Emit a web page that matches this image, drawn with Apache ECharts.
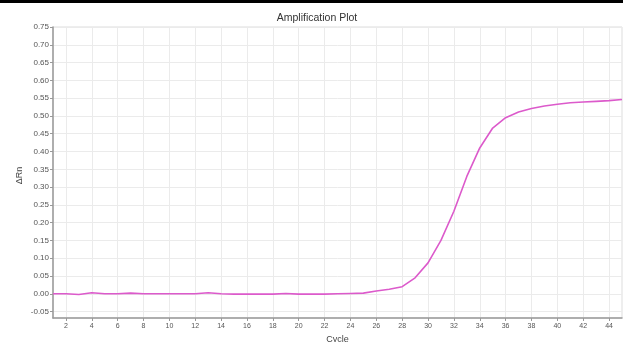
<!DOCTYPE html>
<html><head><meta charset="utf-8">
<script src="https://cdn.jsdelivr.net/npm/echarts@6/dist/echarts.min.js"></script>
<style>html,body{margin:0;padding:0;background:#fff}#c{width:623px;height:342px}</style>
</head><body><div id="c"></div>
<script>
const cycles = [1,2,3,4,5,6,7,8,9,10,11,12,13,14,15,16,17,18,19,20,21,22,23,24,25,26,27,28,29,30,31,32,33,34,35,36,37,38,39,40,41,42,43,44,45];
const deltaRn = [0.000,0.000,-0.002,0.003,0.000,0.000,0.002,0.000,0.000,0.000,0.000,0.000,0.003,0.000,-0.001,-0.001,-0.001,-0.001,0.001,-0.001,-0.001,-0.001,0.000,0.001,0.002,0.008,0.013,0.020,0.045,0.087,0.150,0.232,0.330,0.410,0.466,0.495,0.511,0.521,0.528,0.533,0.537,0.539,0.541,0.543,0.546];
const xTicks = [2,4,6,8,10,12,14,16,18,20,22,24,26,28,30,32,34,36,38,40,42,44];
const yTicks = [-0.05,0,0.05,0.10,0.15,0.20,0.25,0.30,0.35,0.40,0.45,0.50,0.55,0.60,0.65,0.70,0.75];

const chart = echarts.init(document.getElementById('c'), null, {renderer:'canvas'});
chart.setOption({
  animation:false,
  backgroundColor:'#fff',
  textStyle:{fontFamily:'Liberation Sans'},
  title:{text:'Amplification Plot', left:317, top:13, textAlign:'center', padding:0,
    textStyle:{fontSize:10.5, fontWeight:'normal', color:'#333', fontFamily:'Liberation Sans'}},
  graphic:[{type:'rect', shape:{x:0,y:0,width:623,height:3}, style:{fill:'#000'}}],
  grid:{left:53, top:27, right:1, bottom:24, show:true, borderColor:'#ddd', borderWidth:1,
    containLabel:false, outerBoundsMode:'none'},
  xAxis:{type:'value', min:1, max:45, name:'Cycle', nameLocation:'middle', nameGap:17,
    nameMoveOverlap:false,
    nameTextStyle:{fontSize:9, color:'#444'},
    axisLine:{show:true, onZero:false, lineStyle:{color:'#999', width:1.5}},
    axisTick:{show:true, length:3, customValues:xTicks, lineStyle:{color:'#999'}},
    axisLabel:{customValues:xTicks, fontSize:7, color:'#555', margin:5},
    splitLine:{show:true, customValues:xTicks, lineStyle:{color:'#ebebeb', width:1}}},
  yAxis:{type:'value', min:-0.068, max:0.75, name:'ΔRn', nameLocation:'middle', nameGap:29,
    nameMoveOverlap:false,
    nameTextStyle:{fontSize:9, color:'#444', padding:[0,0,0,-6]},
    axisLine:{show:true, lineStyle:{color:'#999', width:1.5}},
    axisTick:{show:true, length:3, customValues:yTicks, lineStyle:{color:'#999'}},
    axisLabel:{customValues:yTicks, fontSize:8, color:'#555', margin:4, formatter:v=>v.toFixed(2)},
    splitLine:{show:true, customValues:yTicks, lineStyle:{color:'#ebebeb', width:1}}},
  series:[{type:'line', data:cycles.map((c,i)=>[c,deltaRn[i]]), showSymbol:false, smooth:false,
    lineStyle:{color:'#dc5acb', width:1.6}}]
});
</script></body></html>
